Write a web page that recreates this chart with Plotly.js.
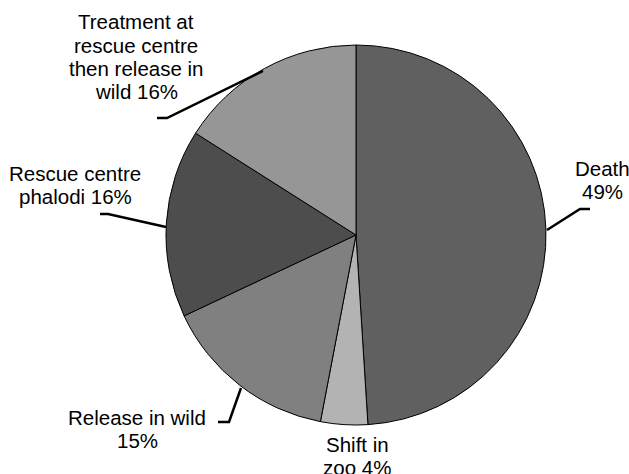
<!DOCTYPE html>
<html>
<head>
<meta charset="utf-8">
<script src="https://cdn.plot.ly/plotly-3.0.1.min.js"></script>
<style>html,body{margin:0;padding:0;background:#fff;}#chart{width:629px;height:474px;}</style>
</head>
<body>
<div id="chart"></div>
<script>
// Data
var categories = ["Death", "Shift in zoo", "Release in wild", "Rescue centre phalodi", "Treatment at rescue centre then release in wild"];
var values = [49, 4, 15, 16, 16];
var labelText = ["Death<br>49%", "Shift in<br>zoo 4%", "Release in wild<br>15%", "Rescue centre<br>phalodi 16%", "Treatment at<br>rescue centre<br>then release in<br>wild 16%"];
var colors = ["#606060", "#b3b3b3", "#808080", "#4d4d4d", "#969696"];

var W = 629, H = 474;
function px(x) { return x / W; }
function py(y) { return 1 - y / H; }

// label placement (pixel coords) and leader lines
var labelPos = [
  {x: 602, y: 180},
  {x: 357, y: 456},
  {x: 137, y: 429},
  {x: 75, y: 185},
  {x: 136, y: 56.5}
];
var LINE = 23;
var leaders = [
  [[590, 209], [580, 209], [547, 230]],
  null,
  [[218, 422], [229, 422], [241, 388]],
  [[100, 214], [108, 214], [166, 227]],
  [[157, 118], [167, 118], [263, 71]]
];

var annotations = [];
labelText.forEach(function (t, i) {
  var lines = t.split("<br>");
  lines.forEach(function (ln, j) {
    annotations.push({
      text: ln, x: px(labelPos[i].x), y: py(labelPos[i].y + (j - (lines.length - 1) / 2) * LINE),
      xref: "paper", yref: "paper", xanchor: "center", yanchor: "middle",
      showarrow: false, align: "center",
      font: {family: "Liberation Sans, Arial, sans-serif", size: 20.5, color: "#000"}
    });
  });
});

var shapes = [];
leaders.forEach(function (pts) {
  if (!pts) return;
  var d = "M" + pts.map(function (p) { return px(p[0]) + "," + py(p[1]); }).join(" L");
  shapes.push({type: "path", xref: "paper", yref: "paper", path: d, line: {color: "#000", width: 2.5}});
});

var trace = {
  type: "pie",
  labels: categories,
  values: values,
  sort: false,
  direction: "clockwise",
  rotation: 0,
  textinfo: "none",
  hoverinfo: "label+percent",
  marker: {colors: colors, line: {color: "#000", width: 1}},
  domain: {x: [px(166), px(546)], y: [py(425), py(45)]},
  showlegend: false
};

var layout = {
  width: W, height: H,
  margin: {l: 0, r: 0, t: 0, b: 0},
  paper_bgcolor: "#fff", plot_bgcolor: "#fff",
  showlegend: false,
  annotations: annotations,
  shapes: shapes
};

Plotly.newPlot("chart", [trace], layout, {displayModeBar: false, staticPlot: true});
</script>
</body>
</html>
